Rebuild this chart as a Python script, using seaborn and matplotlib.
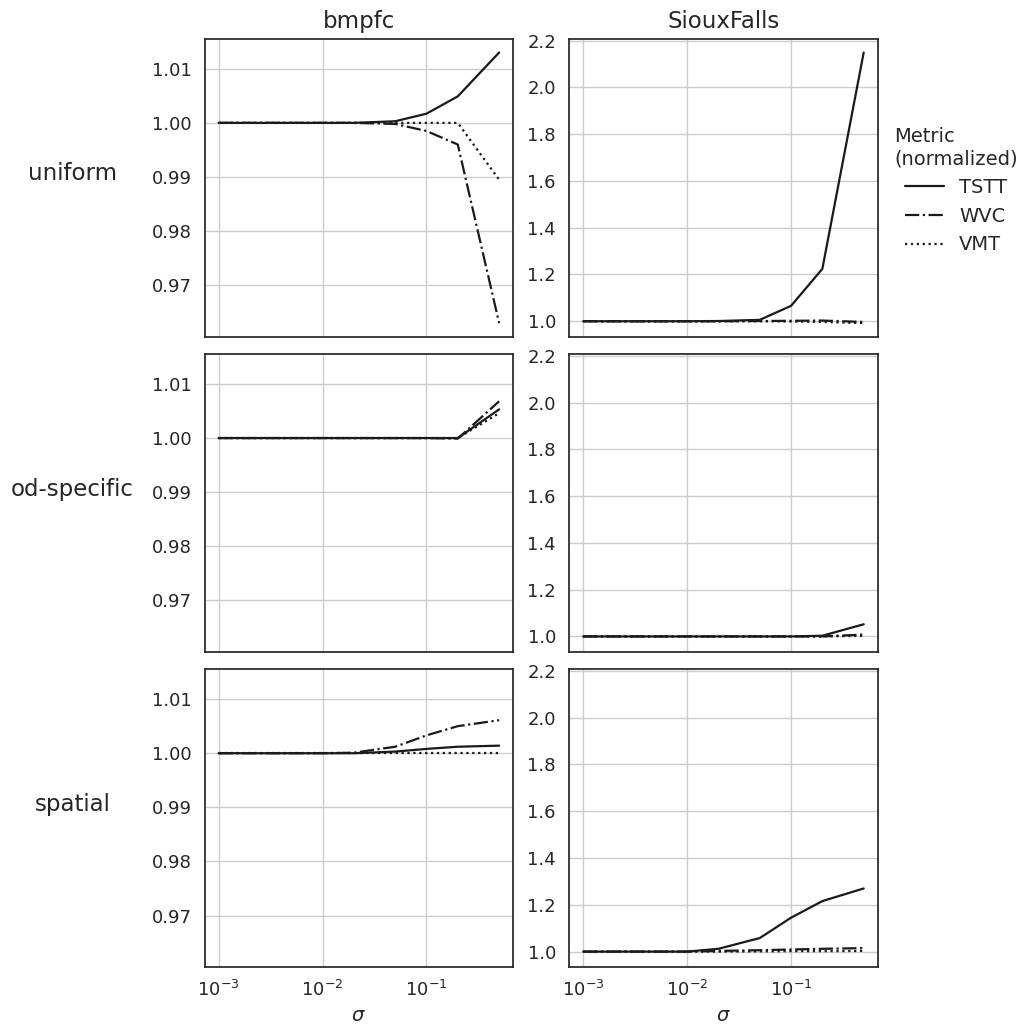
import pandas as pd
import seaborn as sns
import matplotlib.pyplot as plt

# noise levels (x axis)
sigma = [0.001, 0.002, 0.005, 0.01, 0.02, 0.05, 0.1, 0.2, 0.5]

redes = ["bmpfc", "SiouxFalls"]
distribuicoes = ["uniform", "od-specific", "spatial"]
metricas = ["TSTT", "WVC", "VMT"]

# bmpfc
bmpfc_uniform_tstt = [1.0, 1.0, 1.0, 1.0, 1.0, 1.0003, 1.0017, 1.0049, 1.0130]
bmpfc_uniform_wvc = [1.0, 1.0, 1.0, 1.0, 1.0, 0.9998, 0.9985, 0.9960, 0.9630]
bmpfc_uniform_vmt = [1.0, 1.0, 1.0, 1.0, 1.0, 1.0, 1.0, 1.0, 0.9895]

bmpfc_od_tstt = [1.0, 1.0, 1.0, 1.0, 1.0, 1.0, 1.0, 1.0, 1.0053]
bmpfc_od_wvc = [1.0, 1.0, 1.0, 1.0, 1.0, 1.0, 1.0, 0.9999, 1.0068]
bmpfc_od_vmt = [1.0, 1.0, 1.0, 1.0, 1.0, 1.0, 1.0, 1.0, 1.0046]

bmpfc_spatial_tstt = [1.0, 1.0, 1.0, 1.0, 1.0, 1.0003, 1.0008, 1.0012, 1.0014]
bmpfc_spatial_wvc = [1.0, 1.0, 1.0, 1.0, 1.0001, 1.0012, 1.0033, 1.0050, 1.0061]
bmpfc_spatial_vmt = [1.0, 1.0, 1.0, 1.0, 1.0, 1.0, 1.0, 1.0, 1.0]

# SiouxFalls
sioux_uniform_tstt = [1.0, 1.0, 1.0, 1.0, 1.001, 1.006, 1.066, 1.224, 2.149]
sioux_uniform_wvc = [1.0, 1.0, 1.0, 1.0, 1.0, 1.001, 1.002, 1.003, 0.997]
sioux_uniform_vmt = [1.0, 1.0, 1.0, 1.0, 1.0, 1.0, 0.999, 0.997, 0.992]

sioux_od_tstt = [1.0, 1.0, 1.0, 1.0, 1.0, 1.0, 1.0, 1.003, 1.052]
sioux_od_wvc = [1.0, 1.0, 1.0, 1.0, 1.0, 1.0, 1.0, 1.0, 1.008]
sioux_od_vmt = [1.0, 1.0, 1.0, 1.0, 1.0, 1.0, 1.0, 1.0, 1.003]

sioux_spatial_tstt = [1.0, 1.0, 1.0, 1.0, 1.012, 1.058, 1.145, 1.216, 1.270]
sioux_spatial_wvc = [1.0, 1.0, 1.0, 1.0, 1.003, 1.006, 1.009, 1.012, 1.015]
sioux_spatial_vmt = [1.0, 1.0, 1.0, 1.0, 1.0, 1.001, 1.002, 1.002, 1.003]

series = {
    ("bmpfc", "uniform"): [bmpfc_uniform_tstt, bmpfc_uniform_wvc, bmpfc_uniform_vmt],
    ("bmpfc", "od-specific"): [bmpfc_od_tstt, bmpfc_od_wvc, bmpfc_od_vmt],
    ("bmpfc", "spatial"): [bmpfc_spatial_tstt, bmpfc_spatial_wvc, bmpfc_spatial_vmt],
    ("SiouxFalls", "uniform"): [sioux_uniform_tstt, sioux_uniform_wvc, sioux_uniform_vmt],
    ("SiouxFalls", "od-specific"): [sioux_od_tstt, sioux_od_wvc, sioux_od_vmt],
    ("SiouxFalls", "spatial"): [sioux_spatial_tstt, sioux_spatial_wvc, sioux_spatial_vmt],
}

# monta o dataframe longo
linhas = []
for (rede, dist), valores in series.items():
    for metrica, ys in zip(metricas, valores):
        for s, v in zip(sigma, ys):
            linhas.append({"network": rede, "dist": dist, "metric": metrica,
                           "sigma": s, "value": v})
df = pd.DataFrame(linhas)

sns.set_theme(style="white", rc={"axes.grid": True,
                                 "xtick.labelsize": 13,
                                 "ytick.labelsize": 13})

tracos = {"TSTT": "", "WVC": (6.4, 1.6, 1.0, 1.6), "VMT": (1.0, 1.65)}

g = sns.relplot(data=df, x="sigma", y="value", row="dist", col="network",
                style="metric", kind="line", color="#1a1a1a", dashes=tracos,
                linewidth=1.6, errorbar=None,
                row_order=distribuicoes, col_order=redes, style_order=metricas,
                height=3, aspect=1,
                facet_kws=dict(sharey="col", sharex=True, despine=False))

g.set(xscale="log")

for ax in g.axes.flat:
    ax.set_title("")
    ax.set_ylabel("")
    ax.set_xlabel("")
    for lado in ax.spines.values():
        lado.set_visible(True)

for j, rede in enumerate(redes):
    g.axes[0, j].set_title(rede, fontsize=16.5, color=".15", pad=8)
    g.axes[-1, j].set_xlabel(r"$\sigma$", fontsize=14, color=".15")

for i, dist in enumerate(distribuicoes):
    ax = g.axes[i, 0]
    ax.set_ylabel(dist, rotation=0, fontsize=16.5, color=".15",
                  ha="center", va="center")
    ax.yaxis.set_label_coords(-0.428, 0.547)

sns.move_legend(g, "upper left", bbox_to_anchor=(0.857, 0.893),
                frameon=False, title="Metric\n(normalized)",
                fontsize=14, title_fontsize=14)

g.figure.set_size_inches(10.23, 10.26)
g.figure.subplots_adjust(left=0.2, right=0.858, top=0.962, bottom=0.0575,
                         wspace=0.1815, hspace=0.0588)

plt.savefig("out.png", dpi=100)
plt.close()
